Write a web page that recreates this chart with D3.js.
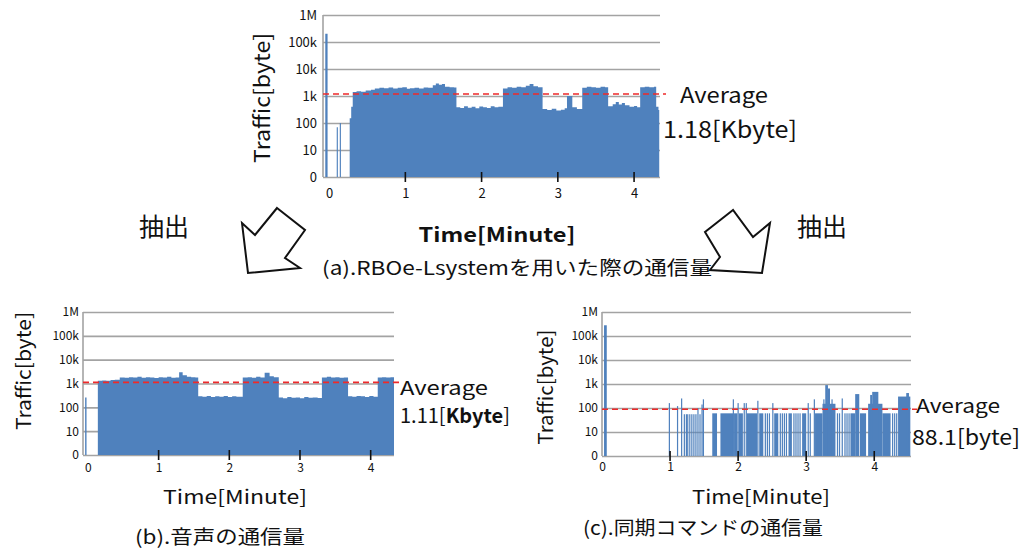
<!DOCTYPE html>
<html>
<head>
<meta charset="utf-8">
<script src="https://cdn.jsdelivr.net/npm/d3@7/dist/d3.min.js"></script>
<style>
body{margin:0;background:#fff}
text{font-family:"Noto Sans CJK JP","Noto Sans",sans-serif;fill:#111}
</style>
</head>
<body>
<svg id="fig" width="1025" height="549"></svg>
<script>
// y axis (log, "0" sits where 1 would be)
const yTicks=[1,10,100,1e3,1e4,1e5,1e6]
const yTickLabels=['0','10','100','1k','10k','100k','1M']
const xTicks=[0,1,2,3,4]

// (a) RBOe-Lsystem total traffic, step points [minute]
const timeA=[-0.05,-0.02,0.10,0.115,0.14,0.155,0.27,0.29,0.31,0.36,0.42,0.48,0.55,0.60,0.66,0.72,0.78,0.84,0.90,0.96,1.02,1.06,1.12,1.18,1.24,1.30,1.36,1.40,1.44,1.48,1.52,1.58,1.64,1.67,1.72,1.77,1.82,1.87,1.92,1.97,2.02,2.07,2.12,2.17,2.22,2.28,2.34,2.40,2.46,2.52,2.58,2.63,2.68,2.74,2.80,2.86,2.92,2.98,3.04,3.09,3.12,3.19,3.25,3.32,3.38,3.44,3.50,3.56,3.62,3.66,3.72,3.76,3.80,3.84,3.88,3.94,4.00,4.04,4.08,4.14,4.20,4.26,4.29,4.32,4.33]
const trafficA=[200000,0,70,0,100,0,150,400,1400,1500,1450,1600,1700,1900,2000,1950,2050,1900,2000,2100,1850,1950,2000,1900,2050,2000,2500,2900,2600,2800,2200,2100,2050,380,360,420,370,400,350,410,380,360,420,380,400,1900,2100,2000,2200,2100,2400,2800,2300,2100,330,300,340,290,310,350,1000,380,330,2000,2200,2100,2000,2200,2100,420,500,600,480,550,450,400,430,380,2100,2200,2100,2200,400,300,0]
const averageA=1180

// (b) voice traffic
const timeB=[-0.04,-0.02,0.14,0.20,0.26,0.32,0.38,0.45,0.52,0.58,0.64,0.70,0.76,0.82,0.88,0.94,1.00,1.06,1.12,1.18,1.24,1.29,1.34,1.40,1.46,1.52,1.56,1.62,1.68,1.74,1.80,1.86,1.92,1.98,2.04,2.10,2.19,2.26,2.32,2.38,2.44,2.50,2.57,2.63,2.70,2.76,2.82,2.88,2.94,3.00,3.06,3.12,3.18,3.25,3.31,3.38,3.44,3.50,3.56,3.62,3.68,3.74,3.80,3.86,3.92,3.98,4.04,4.10,4.16,4.22,4.28,4.33]
const trafficB=[260,0,1300,1350,1300,1400,1450,1800,1750,1850,1800,1900,1750,1850,1800,1700,1850,1800,1900,1750,1800,3000,2200,1900,1850,1800,290,280,300,270,290,280,300,270,290,280,1800,1850,1750,1900,1800,2800,2000,1850,260,240,270,250,260,240,270,250,260,245,1800,1900,1800,1850,1750,1800,290,280,300,290,270,300,280,1800,1850,1800,1850,0]
const averageB=1110

// (c) sync command traffic: dense blocks and single packets
const blockStartC=[0.03,1.62,1.74,1.94,2.01,2.13,2.31,2.53,2.74,2.94,3.13,3.24,3.28,3.32,3.65,3.72,3.79,3.91,3.94,3.97,4.12,4.35,4.47]
const blockEndC  =[0.07,1.69,1.93,1.99,2.07,2.28,2.37,2.59,2.79,3.00,3.24,3.43,3.32,3.35,3.72,3.78,3.88,4.12,3.97,4.06,4.24,4.53,4.51]
const blockValueC=[280000,60,60,60,60,60,60,60,60,60,60,150,900,650,60,380,60,150,350,470,60,300,420]
const barTimeC=[0.99,1.11,1.17,1.21,1.24,1.26,1.29,1.32,1.35,1.38,1.41,1.44,1.47,1.49,1.93,2.00,2.09,2.12,2.29,2.40,2.43,2.46,2.51,2.62,2.65,2.68,2.71,2.82,2.85,2.88,2.91,3.03,3.06,3.12,3.26,3.38,3.46,3.49,3.53,3.57,3.60,3.63,4.27,4.30,4.33]
const barValueC=[160,120,250,55,55,55,55,55,55,55,100,55,140,230,230,160,160,160,200,60,60,60,160,60,60,60,60,60,60,60,60,160,60,230,230,230,60,60,250,60,60,60,60,60,60]
const averageC=88.1

const blue='#4f81bd'
const svg=d3.select('#fig')

function panel(box,domainX,o){
  const x=d3.scaleLinear().domain(domainX).range([box.left,box.right])
  const y=d3.scaleLog().domain([1,1e6]).range([box.bottom,box.top]).clamp(true)
  const g=svg.append('g')

  // gridlines
  g.append('g')
    .attr('transform',`translate(${box.left},0)`)
    .call(d3.axisLeft(y).tickValues(yTicks).tickSize(-(box.right-box.left)).tickFormat(''))
    .call(a=>a.select('.domain').remove())
    .call(a=>a.selectAll('line').attr('stroke','#a3a3a3').attr('stroke-width',1.6))
  g.append('line')
    .attr('x1',box.left).attr('x2',box.left)
    .attr('y1',box.top).attr('y2',box.bottom)
    .attr('stroke','#a3a3a3').attr('stroke-width',1.6)

  // y labels
  g.append('g')
    .attr('transform',`translate(${o.yLabelX},0)`)
    .call(d3.axisLeft(y).tickValues(yTicks).tickSize(0).tickPadding(0).tickFormat((d,i)=>yTickLabels[i]))
    .call(a=>a.select('.domain').remove())
    .call(a=>a.selectAll('text').attr('font-size',o.tickFont).attr('fill','#222')
      .attr('font-family','"Noto Sans CJK JP",sans-serif'))

  const data=g.append('g')
  return {g,x,y,data}
}

function finish(p,box,avg,o){
  // x axis labels
  p.g.append('g')
    .attr('transform',`translate(0,${o.xLabelY})`)
    .call(d3.axisBottom(p.x).tickValues(xTicks).tickSize(0).tickPadding(0).tickFormat(d3.format('d')))
    .call(a=>a.select('.domain').remove())
    .call(a=>a.selectAll('text').attr('font-size',o.tickFont).attr('fill','#222')
      .attr('font-family','"Noto Sans CJK JP",sans-serif'))
  // tick marks
  p.g.selectAll('.tk').data(xTicks.slice(1)).join('line')
    .attr('class','tk')
    .attr('x1',d=>p.x(d)).attr('x2',d=>p.x(d))
    .attr('y1',box.bottom-5).attr('y2',box.bottom+5)
    .attr('stroke','#111').attr('stroke-width',1.6)
  // average
  p.g.append('line')
    .attr('x1',box.left).attr('x2',box.right+6)
    .attr('y1',p.y(avg)).attr('y2',p.y(avg))
    .attr('stroke','#ee2a2a').attr('stroke-width',1.6)
    .attr('stroke-dasharray','6,4')
}

function stepArea(p,box,times,values){
  const area=d3.area()
    .x(d=>p.x(d[0]))
    .y0(box.bottom)
    .y1(d=>p.y(Math.max(d[1],1)))
    .curve(d3.curveStepAfter)
  p.data.append('path')
    .datum(d3.zip(times,values))
    .attr('d',area)
    .attr('fill',blue)
}

// ---------- (a)
const boxA={left:323,right:660,top:15,bottom:177}
const optA={yLabelX:317,tickFont:13,xLabelY:189}
const pA=panel(boxA,[-0.08,4.34],optA)
stepArea(pA,boxA,timeA,trafficA)
finish(pA,boxA,averageA,optA)

// ---------- (b)
const boxB={left:83,right:394,top:312,bottom:455}
const optB={yLabelX:79,tickFont:12,xLabelY:463}
const pB=panel(boxB,[-0.07,4.33],optB)
stepArea(pB,boxB,timeB,trafficB)
finish(pB,boxB,averageB,optB)

// ---------- (c)
const boxC={left:602,right:911,top:312,bottom:456}
const optC={yLabelX:598,tickFont:12,xLabelY:462}
const pC=panel(boxC,[0,4.54],optC)
pC.data.selectAll('.blk').data(d3.range(blockStartC.length)).join('rect')
  .attr('class','blk')
  .attr('x',i=>pC.x(blockStartC[i]))
  .attr('width',i=>pC.x(blockEndC[i])-pC.x(blockStartC[i]))
  .attr('y',i=>pC.y(blockValueC[i]))
  .attr('height',i=>boxC.bottom-pC.y(blockValueC[i]))
  .attr('fill',blue)
pC.data.selectAll('.bar').data(d3.range(barTimeC.length)).join('rect')
  .attr('class','bar')
  .attr('x',i=>pC.x(barTimeC[i])-0.6)
  .attr('width',1.2)
  .attr('y',i=>pC.y(barValueC[i]))
  .attr('height',i=>boxC.bottom-pC.y(barValueC[i]))
  .attr('fill',blue)
finish(pC,boxC,averageC,optC)

// ---------- texts
function label(x,y,txt,size,o={}){
  const t=svg.append('text')
    .attr('x',x).attr('y',y)
    .attr('font-size',size)
    .attr('text-anchor',o.anchor||'middle')
    .text(txt)
  if(o.weight) t.attr('font-weight',o.weight)
  if(o.len) t.attr('textLength',o.len).attr('lengthAdjust','spacingAndGlyphs')
  if(o.rotate) t.attr('transform',`rotate(-90,${x},${y})`)
  return t
}

label(270,98,'Traffic[byte]',22,{len:130,rotate:true})
label(497,242,'Time[Minute]',20,{weight:'bold',len:157})
label(517,275,'(a).RBOe-Lsystemを用いた際の通信量',19,{len:390})
label(680,103,'Average',21,{anchor:'start',len:88})
label(663,138,'1.18[Kbyte]',23,{anchor:'start',len:134})

label(31,371,'Traffic[byte]',20,{len:118,rotate:true})
label(235,504,'Time[Minute]',19,{len:144})
label(220,544,'(b).音声の通信量',19,{len:170})
label(400,395,'Average',19,{anchor:'start',len:88})
const kb=svg.append('text').attr('x',400).attr('y',423).attr('font-size',20)
kb.append('tspan').text('1.11[')
kb.append('tspan').attr('font-weight','bold').text('Kbyte')
kb.append('tspan').text(']')

label(553,387,'Traffic[byte]',20,{len:115,rotate:true})
label(761,504,'Time[Minute]',19,{len:138})
label(703,535,'(c).同期コマンドの通信量',19,{len:240})
label(916,413,'Average',19,{anchor:'start',len:84})
label(912,445,'88.1[byte]',21,{anchor:'start',len:108})

label(164,236,'抽出',25)
label(822,236,'抽出',25)

// arrows
const arrowL=[[277,208],[305,230],[285,258],[300,268],[248,273],[242,223],[255,235]]
const arrowR=[[733,210],[705,232],[720,257],[710,270],[762,273],[770,223],[753,237]]
svg.selectAll('.arrow').data([arrowL,arrowR]).join('polygon')
  .attr('class','arrow')
  .attr('points',d=>d.map(p=>p.join(',')).join(' '))
  .attr('fill','#fff').attr('stroke','#111').attr('stroke-width',2)
</script>
</body>
</html>
